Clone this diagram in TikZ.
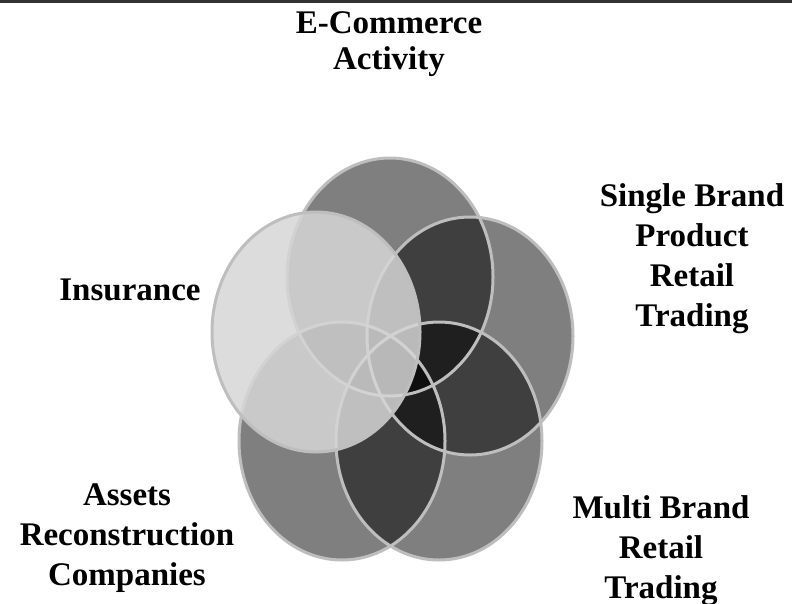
\documentclass[tikz,border=0pt]{standalone}
\usepackage{fontspec}
\setmainfont{Liberation Serif}
\begin{document}
\begin{tikzpicture}[x=1pt,y=-1pt,
  petalfill/.style={fill=black,fill opacity=0.5},
  petalring/.style={draw=ringgray,line width=3pt},
  lightpetal/.style={fill=lightfill,fill opacity=0.85,draw=ringgray,line width=3pt,draw opacity=1},
  lbl/.style={align=center,inner sep=0pt,font=\bfseries\fontsize{33}{40}\selectfont},
  lbltop/.style={align=center,inner sep=0pt,font=\bfseries\fontsize{33}{36}\selectfont}]
\definecolor{ringgray}{HTML}{BEBEBE}
\definecolor{lightfill}{HTML}{D6D6D6}
\definecolor{topline}{HTML}{333333}
\useasboundingbox (0,0) rectangle (792,603);
\fill[white] (0,0) rectangle (792,603);
\fill[topline] (0,0) rectangle (792,3);
% circle fills
\path[petalfill] (390,277) ellipse [x radius=103, y radius=119];
\path[petalfill] (470,336) ellipse [x radius=103, y radius=119];
\path[petalfill] (439,441) ellipse [x radius=103, y radius=119];
\path[petalfill] (342,441) ellipse [x radius=103, y radius=119];
% circle rings
\path[petalring] (390,277) ellipse [x radius=103, y radius=119];
\path[petalring] (470,336) ellipse [x radius=103, y radius=119];
\path[petalring] (439,441) ellipse [x radius=103, y radius=119];
\path[petalring] (342,441) ellipse [x radius=103, y radius=119];
\path[lightpetal] (316,332) ellipse [x radius=104, y radius=120];
% labels
\node[lbltop] (ecom) at (389,44.5) {E-Commerce\\Activity};
\node[lbl] (single) at (692,258.5) {Single Brand\\Product\\Retail\\Trading};
\node[lbl] (ins) at (130,290) {Insurance};
\node[lbl] (assets) at (127,538.5) {Assets\\Reconstruction\\Companies};
\node[lbl] (multi) at (661,550.5) {Multi Brand\\Retail\\Trading};
\end{tikzpicture}
\end{document}
